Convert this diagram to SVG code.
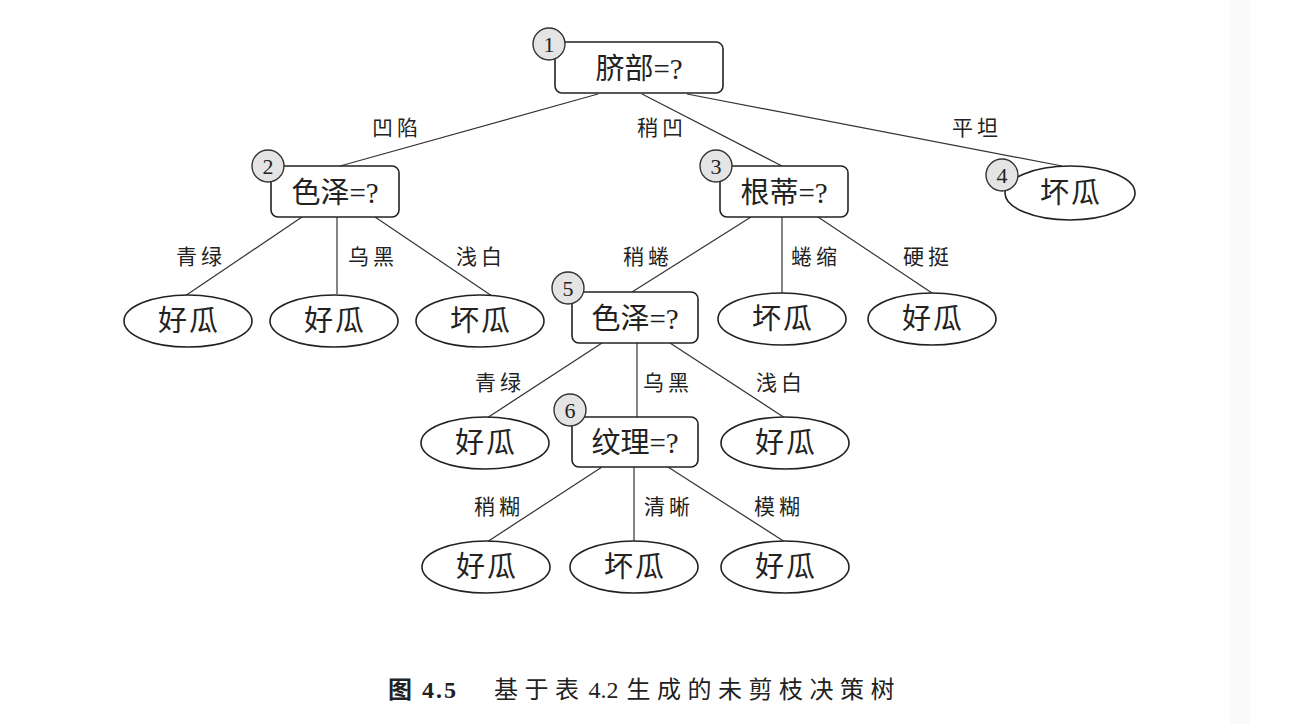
<svg xmlns="http://www.w3.org/2000/svg" width="1312" height="724" viewBox="0 0 1312 724">
<style>
.box{fill:#fff;stroke:#222;stroke-width:1.6}
.leaf{fill:#fff;stroke:#222;stroke-width:1.6}
.badge{fill:#e4e4e4;stroke:#333;stroke-width:1.4}
.num{font-family:"Liberation Serif","DejaVu Serif",serif;font-size:22px;fill:#222;text-anchor:middle}
.nt{font-family:"Liberation Serif","Noto Sans CJK SC",sans-serif;font-size:29px;fill:#222;text-anchor:middle}
.lt{font-family:"Noto Sans CJK SC",sans-serif;font-size:29px;fill:#222;text-anchor:middle;letter-spacing:2px}
.el{font-family:"Noto Sans CJK SC",sans-serif;font-size:21px;fill:#222;text-anchor:middle;letter-spacing:4px}
.edge{stroke:#333;stroke-width:1.2;fill:none}
.cap{font-family:"Liberation Serif","Noto Sans CJK SC",serif;font-size:24px;fill:#222}
.cj{letter-spacing:6.5px}
</style>
<rect x="0" y="0" width="1312" height="724" fill="#fff"/>
<rect x="1230" y="0" width="20" height="724" fill="#fafafa"/>
<g id="connectors">
<line class="edge" x1="598" y1="94" x2="340" y2="166"/>
<line class="edge" x1="642" y1="94" x2="782" y2="166"/>
<line class="edge" x1="687" y1="94" x2="1062" y2="166"/>
<line class="edge" x1="302" y1="217" x2="185" y2="296"/>
<line class="edge" x1="337" y1="217" x2="337" y2="294"/>
<line class="edge" x1="375" y1="217" x2="492" y2="296"/>
<line class="edge" x1="751" y1="217" x2="632" y2="292"/>
<line class="edge" x1="782" y1="217" x2="782" y2="293"/>
<line class="edge" x1="818" y1="217" x2="932" y2="293"/>
<line class="edge" x1="602" y1="343" x2="487" y2="418"/>
<line class="edge" x1="637" y1="343" x2="637" y2="417"/>
<line class="edge" x1="670" y1="343" x2="785" y2="418"/>
<line class="edge" x1="602" y1="467" x2="487" y2="542"/>
<line class="edge" x1="634" y1="467" x2="634" y2="541"/>
<line class="edge" x1="668" y1="467" x2="785" y2="542"/>
<text class="el" x="397" y="135">凹陷</text>
<text class="el" x="662" y="135">稍凹</text>
<text class="el" x="977" y="135">平坦</text>
<text class="el" x="201" y="264">青绿</text>
<text class="el" x="373" y="264">乌黑</text>
<text class="el" x="481" y="264">浅白</text>
<text class="el" x="648" y="264">稍蜷</text>
<text class="el" x="816" y="264">蜷缩</text>
<text class="el" x="928" y="264">硬挺</text>
<text class="el" x="500" y="390">青绿</text>
<text class="el" x="668" y="390">乌黑</text>
<text class="el" x="781" y="390">浅白</text>
<text class="el" x="499" y="514">稍糊</text>
<text class="el" x="669" y="514">清晰</text>
<text class="el" x="779" y="514">模糊</text>
</g>
<g id="n1">
<rect class="box" x="555" y="42" width="168" height="51" rx="7"/>
<text class="nt" x="639" y="79">脐部=?</text>
<circle class="badge" cx="549" cy="44" r="16"/>
<text class="num" x="549" y="52">1</text>
</g>
<g id="n2">
<rect class="box" x="271" y="166" width="128" height="51" rx="7"/>
<text class="nt" x="335" y="203">色泽=?</text>
<circle class="badge" cx="268" cy="166" r="16"/>
<text class="num" x="268" y="174">2</text>
</g>
<g id="n3">
<rect class="box" x="720" y="166" width="128" height="51" rx="7"/>
<text class="nt" x="784" y="203">根蒂=?</text>
<circle class="badge" cx="716" cy="166" r="16"/>
<text class="num" x="716" y="174">3</text>
</g>
<g id="n4">
<ellipse class="leaf" cx="1070" cy="193" rx="65" ry="27"/>
<text class="lt" x="1071" y="203">坏瓜</text>
<circle class="badge" cx="1002" cy="175" r="16"/>
<text class="num" x="1002" y="183">4</text>
</g>
<g id="l2a">
<ellipse class="leaf" cx="188" cy="321" rx="64" ry="26"/>
<text class="lt" x="189" y="331">好瓜</text>
</g>
<g id="l2b">
<ellipse class="leaf" cx="334" cy="321" rx="64" ry="26"/>
<text class="lt" x="335" y="331">好瓜</text>
</g>
<g id="l2c">
<ellipse class="leaf" cx="480" cy="321" rx="64" ry="26"/>
<text class="lt" x="481" y="331">坏瓜</text>
</g>
<g id="n5">
<rect class="box" x="572" y="292" width="126" height="51" rx="7"/>
<text class="nt" x="635" y="329">色泽=?</text>
<circle class="badge" cx="568" cy="288" r="16"/>
<text class="num" x="568" y="296">5</text>
</g>
<g id="l3b">
<ellipse class="leaf" cx="782" cy="319" rx="64" ry="26"/>
<text class="lt" x="783" y="329">坏瓜</text>
</g>
<g id="l3c">
<ellipse class="leaf" cx="932" cy="319" rx="64" ry="26"/>
<text class="lt" x="933" y="329">好瓜</text>
</g>
<g id="l5a">
<ellipse class="leaf" cx="485" cy="443" rx="64" ry="26"/>
<text class="lt" x="486" y="453">好瓜</text>
</g>
<g id="n6">
<rect class="box" x="572" y="417" width="126" height="50" rx="7"/>
<text class="nt" x="635" y="453">纹理=?</text>
<circle class="badge" cx="570" cy="410" r="16"/>
<text class="num" x="570" y="418">6</text>
</g>
<g id="l5c">
<ellipse class="leaf" cx="785" cy="443" rx="64" ry="26"/>
<text class="lt" x="786" y="453">好瓜</text>
</g>
<g id="l6a">
<ellipse class="leaf" cx="486" cy="567" rx="64" ry="26"/>
<text class="lt" x="487" y="577">好瓜</text>
</g>
<g id="l6b">
<ellipse class="leaf" cx="634" cy="567" rx="64" ry="26"/>
<text class="lt" x="635" y="577">坏瓜</text>
</g>
<g id="l6c">
<ellipse class="leaf" cx="785" cy="567" rx="64" ry="26"/>
<text class="lt" x="786" y="577">好瓜</text>
</g>
<g id="caption">
<text class="cap" x="388" y="698" font-weight="bold" letter-spacing="2">图 4.5</text>
<text class="cap" x="494" y="698"><tspan class="cj">基于表</tspan><tspan dx="-3"> 4.2 </tspan><tspan class="cj" dx="2">生成的未剪枝决策树</tspan></text>
</g>
</svg>
